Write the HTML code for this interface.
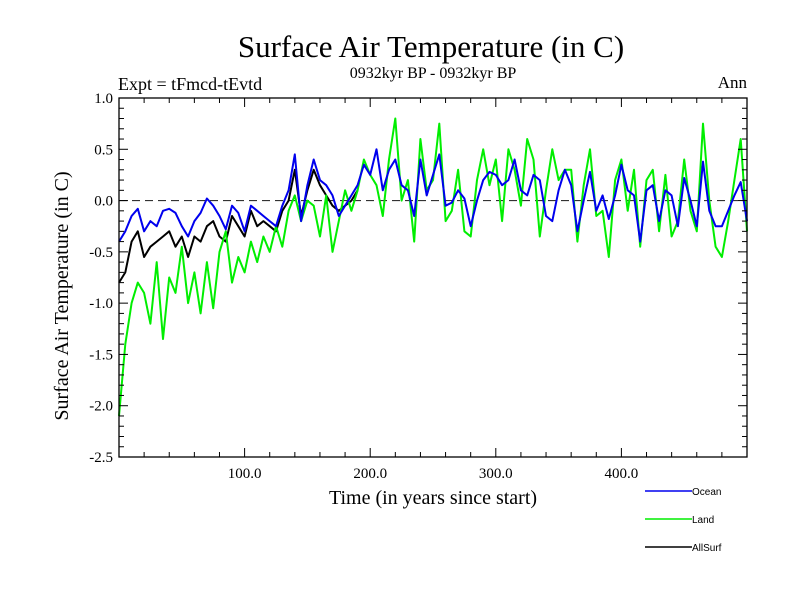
<!DOCTYPE html>
<html><head><meta charset="utf-8">
<style>
html,body{margin:0;padding:0;background:#fff;}
svg{display:block;font-family:"Liberation Serif",serif;}
</style></head>
<body>
<svg id="chart" width="800" height="600" viewBox="0 0 800 600" xmlns="http://www.w3.org/2000/svg">
<text x="431" y="57" font-size="31" text-anchor="middle">Surface Air Temperature (in C)</text>
<text x="433" y="78" font-size="16" text-anchor="middle">0932kyr BP - 0932kyr BP</text>
<text x="118" y="90" font-size="18">Expt = tFmcd-tEvtd</text>
<text x="747" y="88" font-size="17" text-anchor="end">Ann</text>
<text transform="translate(68,296) rotate(-90)" font-size="20" text-anchor="middle">Surface Air Temperature (in C)</text>
<text x="433" y="504" font-size="20" text-anchor="middle">Time (in years since start)</text>
<g id="plot"></g>
<g id="axes"></g>
<g id="legend"></g>
</svg>
<script>
const years = [];
for (let i = 0; i <= 100; i++) years.push(i * 5);
const oceanValues = [-0.40,-0.30,-0.15,-0.08,-0.30,-0.20,-0.25,-0.10,-0.08,-0.12,-0.25,-0.35,-0.20,-0.12,0.02,-0.05,-0.15,-0.28,-0.05,-0.12,-0.30,-0.05,-0.10,-0.15,-0.20,-0.25,-0.05,0.10,0.45,-0.20,0.15,0.40,0.20,0.15,0.05,-0.15,-0.05,0.05,0.15,0.35,0.25,0.50,0.10,0.30,0.40,0.15,0.10,-0.15,0.40,0.05,0.25,0.45,-0.05,-0.02,0.10,0.02,-0.25,0.00,0.20,0.28,0.25,0.15,0.20,0.40,0.10,0.05,0.25,0.20,-0.15,-0.20,0.10,0.30,0.15,-0.30,0.00,0.28,-0.10,0.05,-0.18,0.05,0.35,0.10,0.05,-0.40,0.10,0.15,-0.20,0.10,0.05,-0.25,0.22,0.00,-0.25,0.38,-0.10,-0.25,-0.25,-0.10,0.05,0.18,-0.20];
const landValues = [-2.10,-1.40,-1.00,-0.80,-0.90,-1.20,-0.60,-1.35,-0.75,-0.90,-0.45,-1.00,-0.70,-1.10,-0.60,-1.05,-0.50,-0.30,-0.80,-0.55,-0.70,-0.40,-0.60,-0.35,-0.50,-0.25,-0.45,-0.10,0.05,-0.20,0.00,-0.05,-0.35,0.05,-0.50,-0.20,0.10,-0.10,0.10,0.40,0.25,0.15,-0.15,0.40,0.80,0.00,0.20,-0.40,0.60,0.10,0.20,0.75,-0.20,-0.10,0.30,-0.30,-0.35,0.20,0.50,0.15,0.40,-0.20,0.50,0.30,-0.05,0.60,0.40,-0.35,0.10,0.50,0.20,0.30,0.30,-0.40,0.15,0.50,-0.15,-0.10,-0.55,0.20,0.40,-0.10,0.30,-0.45,0.20,0.30,-0.30,0.25,-0.35,-0.20,0.40,-0.10,-0.30,0.75,0.00,-0.45,-0.55,-0.20,0.20,0.60,-0.30];
const allSurfValues = [-0.80,-0.70,-0.40,-0.30,-0.55,-0.45,-0.40,-0.35,-0.30,-0.45,-0.35,-0.55,-0.35,-0.40,-0.25,-0.20,-0.35,-0.40,-0.15,-0.25,-0.35,-0.10,-0.25,-0.20,-0.25,-0.30,-0.10,0.00,0.30,-0.15,0.10,0.30,0.15,0.05,-0.05,-0.10,-0.05,0.00,0.10];
const yTicks = [1.0,0.5,0.0,-0.5,-1.0,-1.5,-2.0,-2.5];
const yTickLabels = ["1.0","0.5","0.0","-0.5","-1.0","-1.5","-2.0","-2.5"];
const xTicks = [100,200,300,400];
const xTickLabels = ["100.0","200.0","300.0","400.0"];

const L=119,R=747,T=98,B=457;
const xMin=0,xMax=500,yMin=-2.5,yMax=1.0;
const sx=v=>L+(v-xMin)/(xMax-xMin)*(R-L);
const sy=v=>B-(v-yMin)/(yMax-yMin)*(B-T);
const NS="http://www.w3.org/2000/svg";
function mk(tag,attrs,parent){const e=document.createElementNS(NS,tag);for(const k in attrs)e.setAttribute(k,attrs[k]);parent.appendChild(e);return e;}
const plot=document.getElementById('plot'),axes=document.getElementById('axes'),legend=document.getElementById('legend');

const zl=mk('line',{x1:L,x2:R,y1:sy(0),y2:sy(0),stroke:'#333','stroke-width':1.2,'stroke-dasharray':'8,5'},plot);



function series(vals,color,name){
  const d=vals.map((v,i)=>(i?'L':'M')+sx(years[i]).toFixed(1)+','+sy(v).toFixed(1)).join('');
  const p=mk('path',{d:d,fill:'none',stroke:color,'stroke-width':2,'stroke-linejoin':'round'},plot);
  
  
}
series(allSurfValues,'#000','allsurf-line');
series(landValues,'#00ee00','land-line');
series(oceanValues,'#0000ee','ocean-line');

const fr=mk('rect',{x:L,y:T,width:R-L,height:B-T,fill:'none',stroke:'#000','stroke-width':1.3},axes);



for(let v=-2.5;v<=1.0001;v+=0.1){
  const major=Math.abs(v*2-Math.round(v*2))<1e-6;
  const len=major?9:5,y=sy(v);
  mk('line',{x1:L,x2:L+len,y1:y,y2:y,stroke:'#000'},axes);
  mk('line',{x1:R,x2:R-len,y1:y,y2:y,stroke:'#000'},axes);
}
for(let v=20;v<500;v+=20){
  const major=v%100===0;const len=major?9:5,x=sx(v);
  mk('line',{x1:x,x2:x,y1:B,y2:B-len,stroke:'#000'},axes);
  mk('line',{x1:x,x2:x,y1:T,y2:T+len,stroke:'#000'},axes);
}
yTicks.forEach((v,i)=>{
  const t=mk('text',{x:L-6,y:sy(v)+5,'font-size':15,'text-anchor':'end'},axes);
  t.textContent=yTickLabels[i];
  
  
});
xTicks.forEach((v,i)=>{
  const t=mk('text',{x:sx(v),y:B+21,'font-size':15,'text-anchor':'middle'},axes);
  t.textContent=xTickLabels[i];
  
  
});

const legendItems=[["Ocean","#0000ee",491],["Land","#00ee00",519],["AllSurf","#000",547]];
legendItems.forEach(it=>{
  const g=mk('g',{},legend);
  
  
  mk('line',{x1:645,x2:692,y1:it[2],y2:it[2],stroke:it[1],'stroke-width':1.5},g);
  const t=mk('text',{x:692,y:it[2]+4,'font-size':10,'font-family':'Liberation Sans, sans-serif'},g);
  t.textContent=it[0];
});
</script>
</body></html>
